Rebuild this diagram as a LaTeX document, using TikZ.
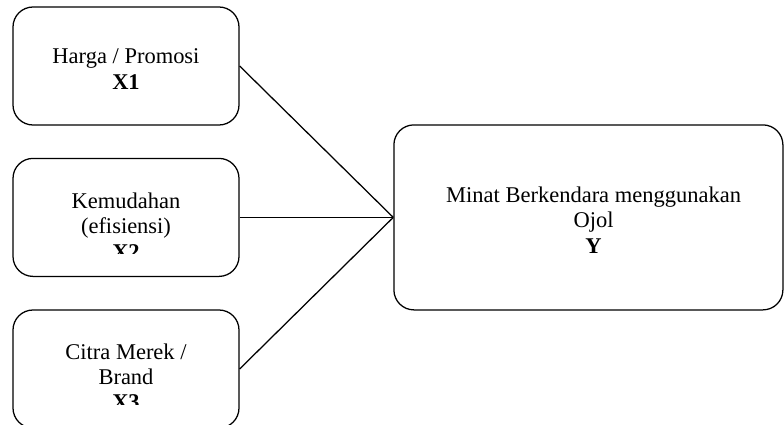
\documentclass[tikz,border=0pt]{standalone}
\usepackage{fontspec}
\setmainfont{Liberation Serif}
\tikzset{
  varbox/.style={draw, line width=0.9pt, rounded corners=0.5cm, minimum width=5.65cm, minimum height=2.95cm},
  vartext/.style={align=center, font=\fontsize{16}{18}\selectfont, inner sep=0pt}
}
\begin{document}
\begin{tikzpicture}
        \useasboundingbox (0,0) rectangle (19.6,10.625);

        % Variable boxes X1, X2, X3 and Y
        \node[varbox] (x1) at (3.15,8.975) {};
        \node[varbox] (x2) at (3.15,5.19) {};
        \node[varbox] (x3) at (3.15,1.4) {};
        \node[varbox, minimum width=9.725cm, minimum height=4.625cm] (y) at (14.71,5.19) {};

        % Texts (X2 and X3 are cut off at the bottom)
        \node[vartext] (x1text) at (3.15,8.9) {Harga / Promosi\\\textbf{X1}};
        \begin{scope}
          \clip (0.5,4.29) rectangle (5.8,6.6);
          \node[vartext] (x2text) at (3.15,4.975) {Kemudahan\\(efisiensi)\\\textbf{X2}};
        \end{scope}
        \begin{scope}
          \clip (0.5,0.52) rectangle (5.8,2.8);
          \node[vartext] (x3text) at (3.15,1.2) {Citra Merek /\\Brand\\\textbf{X3}};
        \end{scope}
        \node[vartext] (ytext) at (14.84,5.125) {Minat Berkendara menggunakan\\Ojol\\\textbf{Y}};

        % Connectors
        \draw[line width=0.9pt] (x1.east) -- (y.west);
        \draw[line width=0.9pt] (x2.east) -- (y.west);
        \draw[line width=0.9pt] (x3.east) -- (y.west);
\end{tikzpicture}
\end{document}
